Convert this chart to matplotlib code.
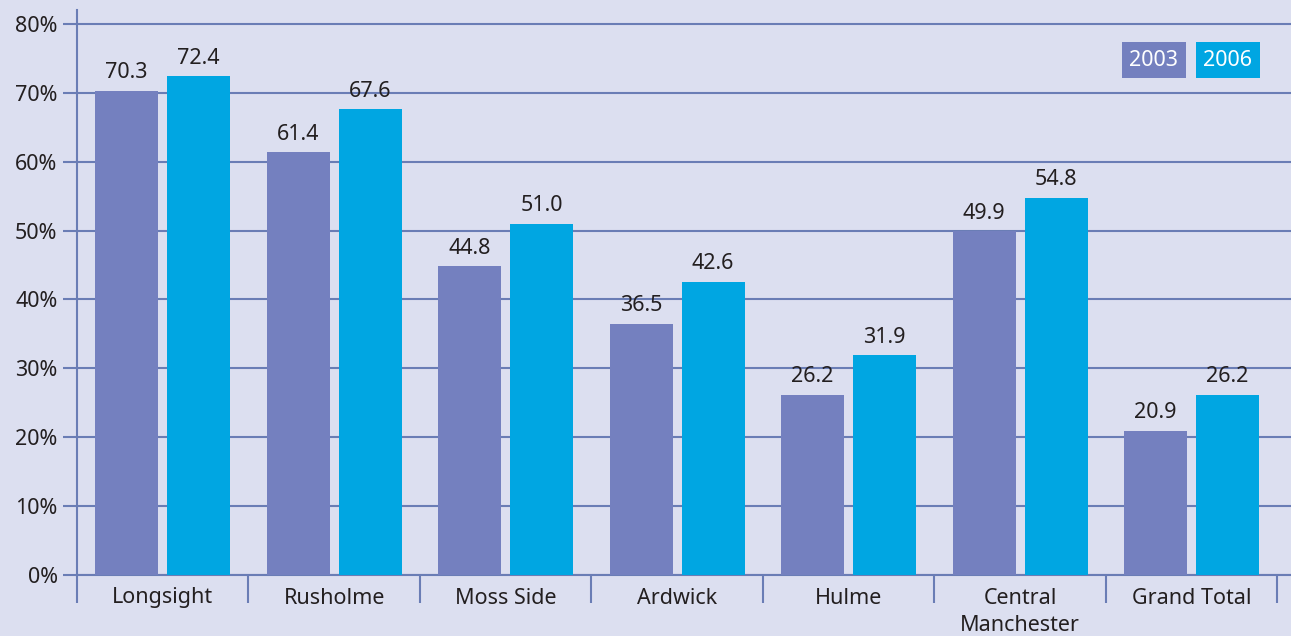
import matplotlib.pyplot as plt
import numpy as np

plt.rcParams['font.family'] = ['Noto Sans', 'DejaVu Sans']

areas = ['Longsight', 'Rusholme', 'Moss Side', 'Ardwick', 'Hulme',
         'Central\nManchester', 'Grand Total']
vals_2003 = [70.3, 61.4, 44.8, 36.5, 26.2, 49.9, 20.9]
vals_2006 = [72.4, 67.6, 51.0, 42.6, 31.9, 54.8, 26.2]

bg = '#dcdff0'
c2003 = '#7480bf'
c2006 = '#00a6e2'
line_c = '#6a7db5'
txt_c = '#231f20'
fs = 15.5

fig = plt.figure(figsize=(12.91, 6.36), dpi=100, facecolor=bg)
ax = fig.add_axes([77 / 1291, 61 / 636, 1214 / 1291, 565 / 636])
ax.set_facecolor(bg)

x = np.arange(len(areas))
w = 0.367
off = 0.21
ax.bar(x - off, vals_2003, w, color=c2003, zorder=3)
ax.bar(x + off, vals_2006, w, color=c2006, zorder=3)

for i in range(len(areas)):
    ax.text(x[i] - off, vals_2003[i] + 1.1, f'{vals_2003[i]:.1f}', ha='center', va='bottom',
            fontsize=fs, color=txt_c)
    ax.text(x[i] + off, vals_2006[i] + 1.1, f'{vals_2006[i]:.1f}', ha='center', va='bottom',
            fontsize=fs, color=txt_c)

ax.set_xlim(-0.5, 6.58)
ax.set_ylim(0, 82.03)

# y axis
ax.set_yticks(np.arange(0, 81, 10))
ax.set_yticklabels([f'{v}%' for v in range(0, 81, 10)], fontsize=fs, color=txt_c)
ax.tick_params(axis='y', length=10, width=1.5, color=line_c, pad=4)
ax.grid(axis='y', color=line_c, linewidth=1.5, zorder=1)

# x axis: separators as major ticks, labels on minor ticks
ax.set_xticks(np.arange(-0.5, 7.0, 1.0))
ax.set_xticklabels([])
ax.tick_params(axis='x', which='major', length=20, width=1.5, color=line_c)
ax.set_xticks(x, minor=True)
ax.set_xticklabels(areas, minor=True, fontsize=fs, color=txt_c, linespacing=1.4)
ax.tick_params(axis='x', which='minor', length=0, pad=9)

for s in ['top', 'right']:
    ax.spines[s].set_visible(False)
ax.spines['left'].set_color(line_c)
ax.spines['left'].set_linewidth(1.5)
ax.spines['bottom'].set_color(line_c)
ax.spines['bottom'].set_linewidth(1.5)

# legend boxes
fig.text(1154 / 1291, 1 - 60 / 636, '2003', ha='center', va='center', fontsize=fs, color='white',
         bbox=dict(boxstyle='square,pad=0.35', fc=c2003, ec='none'))
fig.text(1228 / 1291, 1 - 60 / 636, '2006', ha='center', va='center', fontsize=fs, color='white',
         bbox=dict(boxstyle='square,pad=0.35', fc=c2006, ec='none'))

fig.savefig('out.png', dpi=100, facecolor=bg)
